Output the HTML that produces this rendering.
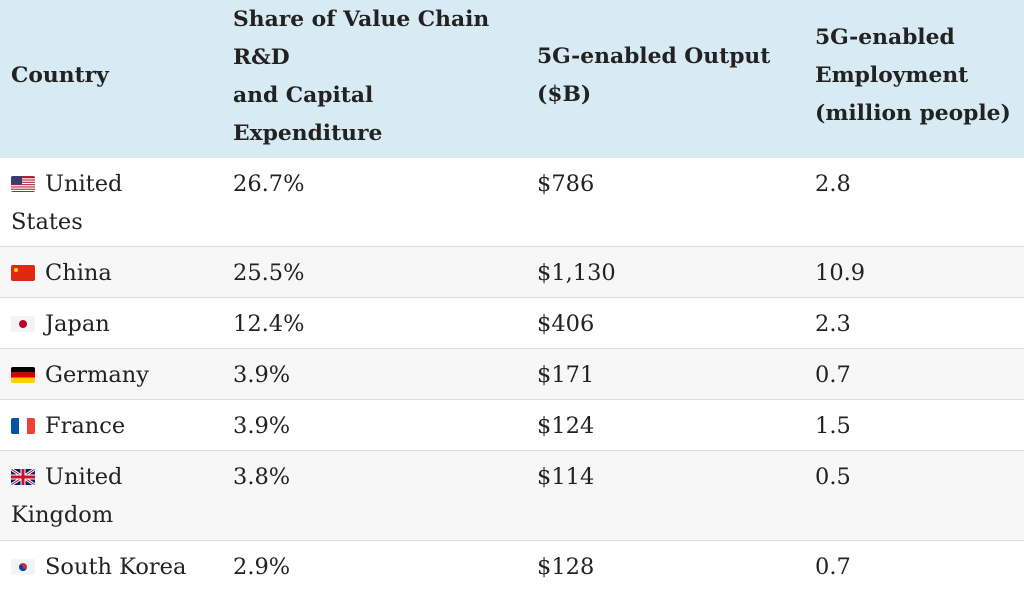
<!DOCTYPE html>
<html><head><style>
body{margin:0;width:1024px;height:582px;overflow:hidden;background:#fff;font-family:"DejaVu Serif","Liberation Serif",serif;font-size:22.5px;color:#222;}
.hdr{position:absolute;left:0;top:0;width:1024px;height:158px;background:#d8ebf5;font-weight:bold;font-size:21.8px}
.row{position:absolute;left:0;width:1024px;border-top:1px solid #ddd;}
.row .c{top:7px!important}
.c{position:absolute;line-height:38px;white-space:nowrap}
.c1{left:11px}.c2{left:233px}.c3{left:537px}.c4{left:815px}
.f{display:inline-block;width:24px;height:16px;vertical-align:-1px;margin-right:10px;border-radius:2px;overflow:hidden}
</style></head><body>
<div class="hdr">
<div class="c c1" style="top:57px">Country</div>
<div class="c c2" style="top:1px">Share of Value Chain<br>R&amp;D<br>and Capital<br>Expenditure</div>
<div class="c c3" style="top:38px">5G-enabled Output<br>($B)</div>
<div class="c c4" style="top:19px">5G-enabled<br>Employment<br>(million people)</div>
</div>

<div class="row" style="top:158px;height:88px;background:#fff;border-top:none">
<div class="c c1" style="top:6px"><svg class="f" viewBox="0 0 24 16"><rect width="24" height="16" fill="#b22234"/><g fill="#fff"><rect y="2.3" width="24" height="1.2"/><rect y="4.6" width="24" height="1.2"/><rect y="6.9" width="24" height="1.2"/><rect y="9.2" width="24" height="1.2"/><rect y="11.5" width="24" height="1.2"/><rect y="13.8" width="24" height="1.2"/></g><rect width="11" height="8.6" fill="#3c3b6e"/></svg>United<br>States</div>
<div class="c c2" style="top:6px">26.7%</div><div class="c c3" style="top:6px">$786</div><div class="c c4" style="top:6px">2.8</div>
</div>

<div class="row" style="top:246px;height:51px;background:#f7f7f7">
<div class="c c1" style="top:6px"><svg class="f" viewBox="0 0 24 16"><rect width="24" height="16" fill="#de2910"/><circle cx="5" cy="5" r="2" fill="#ffde00"/></svg>China</div>
<div class="c c2" style="top:6px">25.5%</div><div class="c c3" style="top:6px">$1,130</div><div class="c c4" style="top:6px">10.9</div>
</div>

<div class="row" style="top:297px;height:51px;background:#fff">
<div class="c c1" style="top:6px"><svg class="f" viewBox="0 0 24 16"><rect width="24" height="16" fill="#f4f4f4"/><circle cx="12" cy="8" r="4" fill="#bc002d"/></svg>Japan</div>
<div class="c c2" style="top:6px">12.4%</div><div class="c c3" style="top:6px">$406</div><div class="c c4" style="top:6px">2.3</div>
</div>

<div class="row" style="top:348px;height:51px;background:#f7f7f7">
<div class="c c1" style="top:6px"><svg class="f" viewBox="0 0 24 16"><rect width="24" height="5.4" fill="#000"/><rect y="5.3" width="24" height="5.4" fill="#dd0000"/><rect y="10.6" width="24" height="5.4" fill="#ffce00"/></svg>Germany</div>
<div class="c c2" style="top:6px">3.9%</div><div class="c c3" style="top:6px">$171</div><div class="c c4" style="top:6px">0.7</div>
</div>

<div class="row" style="top:399px;height:51px;background:#fff">
<div class="c c1" style="top:6px"><svg class="f" viewBox="0 0 24 16"><rect width="8" height="16" fill="#0055a4"/><rect x="8" width="8" height="16" fill="#fff"/><rect x="16" width="8" height="16" fill="#ef4135"/></svg>France</div>
<div class="c c2" style="top:6px">3.9%</div><div class="c c3" style="top:6px">$124</div><div class="c c4" style="top:6px">1.5</div>
</div>

<div class="row" style="top:450px;height:90px;background:#f7f7f7">
<div class="c c1" style="top:6px"><svg class="f" viewBox="0 0 24 16"><rect width="24" height="16" fill="#012169"/><path d="M0 0L24 16M24 0L0 16" stroke="#fff" stroke-width="3"/><path d="M0 0L24 16M24 0L0 16" stroke="#c8102e" stroke-width="1"/><path d="M12 0V16M0 8H24" stroke="#fff" stroke-width="5"/><path d="M12 0V16M0 8H24" stroke="#c8102e" stroke-width="3"/></svg>United<br>Kingdom</div>
<div class="c c2" style="top:6px">3.8%</div><div class="c c3" style="top:6px">$114</div><div class="c c4" style="top:6px">0.5</div>
</div>

<div class="row" style="top:540px;height:60px;background:#fff">
<div class="c c1" style="top:6px"><svg class="f" viewBox="0 0 24 16"><rect width="24" height="16" fill="#f4f4f4"/><circle cx="12" cy="8" r="4" fill="#cd2e3a"/><path d="M8 8a4 4 0 0 0 8 0a2 2 0 0 1-4 0a2 2 0 0 0-4 0" fill="#0047a0"/></svg>South Korea</div>
<div class="c c2" style="top:6px">2.9%</div><div class="c c3" style="top:6px">$128</div><div class="c c4" style="top:6px">0.7</div>
</div>
</body></html>
